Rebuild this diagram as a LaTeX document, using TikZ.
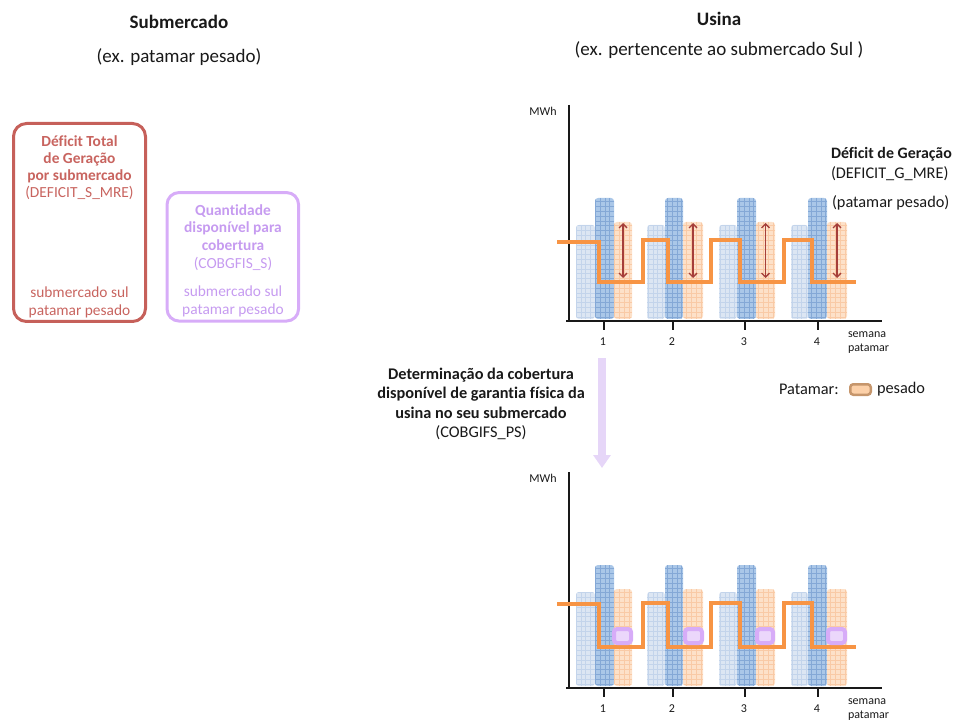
\documentclass[tikz,border=0pt]{standalone}
\usepackage{fontspec}
\setmainfont{Carlito}[Ligatures={NoCommon}]
\usetikzlibrary{arrows.meta}
\definecolor{ink}{RGB}{25,25,25}
\definecolor{redb}{RGB}{198,96,90}
\definecolor{redt}{RGB}{200,100,95}
\definecolor{purb}{RGB}{215,172,248}
\definecolor{purt}{RGB}{198,155,240}
\definecolor{purf}{RGB}{235,215,251}
\definecolor{arrowpur}{RGB}{230,214,248}
\definecolor{lbf}{RGB}{220,230,243}
\definecolor{lbg}{RGB}{195,212,235}
\definecolor{dbf}{RGB}{170,199,232}
\definecolor{dbg}{RGB}{132,168,214}
\definecolor{orf}{RGB}{253,225,201}
\definecolor{org}{RGB}{249,202,166}
\definecolor{stepor}{RGB}{247,148,68}
\definecolor{darr}{RGB}{165,62,58}
\definecolor{swf}{RGB}{252,208,168}
\definecolor{swb}{RGB}{198,150,108}
\newcommand{\pbar}[5]{%
  \fill[#4, rounded corners=3] (#1,#3) rectangle (#2,319);
  \begin{scope}
    \clip[rounded corners=3] (#1,#3) rectangle (#2,319);
    \draw[#5, line width=0.55pt, step=4.8pt] (#1,#3) grid (#2,319);
  \end{scope}}
\newcommand{\pgroup}[4]{% x1 x2 x3 x4
  \pbar{#1}{#2}{225}{lbf}{lbg}
  \pbar{#2}{#3}{198}{dbf}{dbg}
  \pbar{#3}{#4}{222}{orf}{org}}
\newcommand{\pchart}[4]{% #1 prefix, #2 first high, #3 high, #4 low
  \pgroup{576}{595}{614}{632}
  \pgroup{647}{665}{683}{703}
  \pgroup{719}{737}{756}{775}
  \pgroup{791}{808}{827}{847}
  \coordinate (#1yt) at (569,105);
  \coordinate (#1o) at (569,321);
  \coordinate (#1xs) at (566,321);
  \coordinate (#1xe) at (882,321);
  \draw[axisline] (#1yt) -- (#1o);
  \draw[axisline] (#1xs) -- (#1xe);
  \foreach \tx/\tl in {604/1,673/2,745/3,818/4}{
    \coordinate (#1t\tl) at (\tx,321);
    \coordinate (#1tb\tl) at (\tx,330);
    \draw[axisline] (#1t\tl) -- (#1tb\tl);
    \node[smalltxt] (#1n\tl) at (\tx-1,342) {\tl};
  }
  \node[smalltxt] (#1mwh) at (543,111) {MWh};
  \node[smalltxt, anchor=west] (#1sem) at (848,335) {semana};
  \node[smalltxt, anchor=west] (#1pat) at (848,349) {patamar};
  \draw[stepline] (557,#2) -- (599,#2) -- (599,#4) -- (643,#4) -- (643,#3) -- (668,#3)
    -- (668,#4) -- (711,#4) -- (711,#3) -- (740,#3) -- (740,#4) -- (784,#4)
    -- (784,#3) -- (812,#3) -- (812,#4) -- (856,#4);
}
\tikzset{
  every node/.style={inner sep=0pt, outer sep=0pt},
  ttl/.style={font=\fontsize{19}{22}\selectfont\bfseries, text=ink},
  subt/.style={font=\fontsize{19}{22}\selectfont, text=ink},
  rlbl/.style={font=\fontsize{16.3}{18}\selectfont, text=ink},
  smalltxt/.style={font=\fontsize{12}{14}\selectfont, text=ink},
  axisline/.style={draw=ink, line width=2pt},
  stepline/.style={draw=stepor, line width=4pt, line join=miter},
  dblarrow/.style={draw=darr, line width=1.3pt, {Straight Barb[length=4pt,width=8pt]}-{Straight Barb[length=4pt,width=8pt]}},
  purbox/.style={draw=purb, fill=purf, line width=4pt, rounded corners=3},
}
\begin{document}
\begin{tikzpicture}[x=1pt,y=-1pt]
\useasboundingbox (0,0) rectangle (954,722);
% titles
\node[ttl] (tsub) at (179,22) {Submercado};
\node[subt] (tsub2) at (179,57) {(ex. patamar pesado)};
\node[ttl] (tusi) at (719,19) {Usina};
\node[subt] (tusi2) at (719,50) {(ex. pertencente ao submercado Sul )};
% red box
\node[draw=redb, line width=3pt, rounded corners=13, minimum width=132pt, minimum height=198pt] (rbox) at (79.5,222.5) {};
\node[text=redt, align=center, font=\fontsize{15.4}{17}\selectfont] (rtxt) at (79.5,167.5) {\textbf{Déficit Total}\\\textbf{de Geração}\\\textbf{por submercado}\\(DEFICIT\_S\_MRE)};
\node[text=redt, align=center, font=\fontsize{15.4}{18}\selectfont] (rtxt2) at (79.5,302) {submercado sul\\patamar pesado};
% purple box
\node[draw=purb, line width=3pt, rounded corners=12, minimum width=131.5pt, minimum height=128.5pt] (pbox) at (232.8,256.8) {};
\node[text=purt, align=center, font=\fontsize{15.4}{17.7}\selectfont] (ptxt) at (233,237.5) {\textbf{Quantidade}\\\textbf{disponível para}\\\textbf{cobertura}\\(COBGFIS\_S)};
\node[text=purt, align=center, font=\fontsize{15.4}{17.5}\selectfont] (ptxt2) at (233,301.5) {submercado sul\\patamar pesado};
% top chart
\pchart{a}{242}{240}{282}
\foreach \xa [count=\i] in {623,693,765.5,837}{
  \coordinate (up\i) at (\xa,223);
  \coordinate (dn\i) at (\xa,278);
  \draw[dblarrow] (up\i) -- (dn\i);
}
\node[anchor=west, text=ink, font=\fontsize{15.9}{18}\selectfont\bfseries] (dg1) at (831,154) {Déficit de Geração};
\node[rlbl, anchor=west] (dg2) at (831,174) {(DEFICIT\_G\_MRE)};
\node[rlbl, anchor=west] (dg3) at (832,203) {(patamar pesado)};
% legend
\node[rlbl, anchor=west] (patl) at (779,389) {Patamar:};
\node[draw=swb, fill=swf, line width=2.5pt, rounded corners=3, minimum width=20.5pt, minimum height=10.5pt] (sw) at (860.5,389.5) {};
\node[rlbl, anchor=west] (pes) at (877,389) {pesado};
% middle arrow and text
\coordinate (arrtop) at (602,358);
\coordinate (arrbot) at (602,468);
\draw[draw=arrowpur, line width=8.5pt, -{Triangle[length=13pt,width=17pt]}] (arrtop) -- (arrbot);
\node[align=center, text=ink, font=\fontsize{16.3}{19.3}\selectfont] (det) at (481,404) {\textbf{Determinação da cobertura}\\\textbf{disponível de garantia física da}\\\textbf{usina no seu submercado}\\(COBGIFS\_PS)};
% bottom chart
\begin{scope}[shift={(0,367)}]
\pchart{b}{237}{235.7}{279.7}
\foreach \xa/\xb [count=\i] in {612/633,683/704,755/775,826/847}{
  \node[purbox, minimum width=\xb-\xa-4, minimum height=14pt] (sq\i) at ({(\xa+\xb)/2},269) {};
}
\end{scope}
\end{tikzpicture}
\end{document}
